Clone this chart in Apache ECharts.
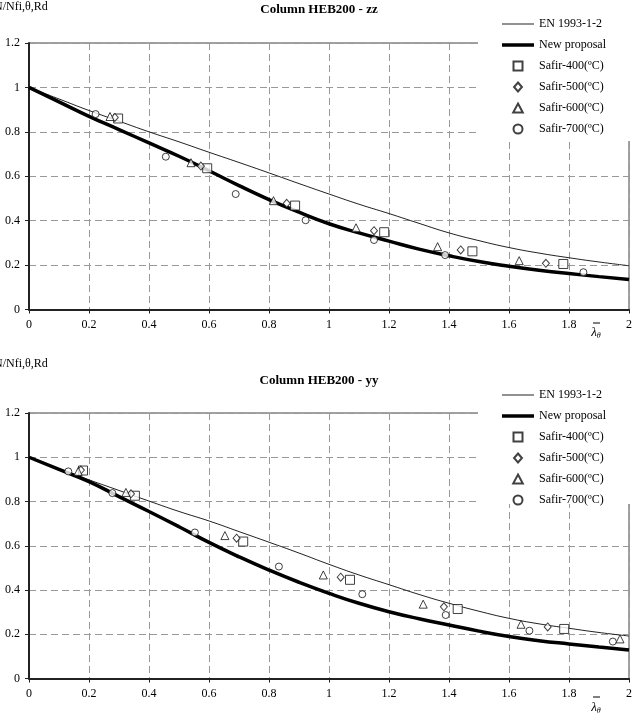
<!DOCTYPE html>
<html>
<head>
<meta charset="utf-8">
<script src="https://cdn.jsdelivr.net/npm/echarts@6/dist/echarts.min.js"></script>
<style>
  html, body { margin: 0; padding: 0; background: #fff; }
  #chart { width: 639px; height: 723px; }
</style>
</head>
<body>
<div id="chart"></div>
<script>
const curveLambda = [0, 0.1, 0.2, 0.3, 0.4, 0.5, 0.6, 0.7, 0.8, 0.9, 1.0, 1.1, 1.2, 1.3, 1.4, 1.5, 1.6, 1.7, 1.8, 1.9, 2.0]

// Column HEB200 - zz
const zzEn = [1, 0.948, 0.896, 0.848, 0.80, 0.755, 0.708, 0.662, 0.615, 0.567, 0.52, 0.474, 0.432, 0.388, 0.345, 0.31, 0.279, 0.254, 0.233, 0.214, 0.197]
const zzNew = [1, 0.935, 0.87, 0.81, 0.75, 0.69, 0.625, 0.558, 0.495, 0.438, 0.386, 0.345, 0.308, 0.272, 0.242, 0.216, 0.195, 0.177, 0.162, 0.148, 0.135]
const zzSafir400 = [[0.297, 0.86], [0.594, 0.636], [0.887, 0.468], [1.184, 0.348], [1.478, 0.262], [1.781, 0.205]]
const zzSafir500 = [[0.286, 0.865], [0.573, 0.646], [0.859, 0.478], [1.15, 0.355], [1.439, 0.268], [1.723, 0.208]]
const zzSafir600 = [[0.27, 0.869], [0.54, 0.661], [0.815, 0.49], [1.09, 0.368], [1.362, 0.283], [1.634, 0.22]]
const zzSafir700 = [[0.222, 0.88], [0.456, 0.688], [0.689, 0.52], [0.922, 0.402], [1.15, 0.313], [1.387, 0.245], [1.848, 0.168]]

// Column HEB200 - yy
const yyEn = [1, 0.948, 0.898, 0.85, 0.802, 0.755, 0.712, 0.664, 0.616, 0.567, 0.516, 0.468, 0.424, 0.38, 0.34, 0.304, 0.272, 0.247, 0.227, 0.208, 0.192]
const yyNew = [1, 0.945, 0.89, 0.822, 0.755, 0.686, 0.615, 0.55, 0.49, 0.435, 0.385, 0.34, 0.302, 0.27, 0.242, 0.214, 0.19, 0.171, 0.156, 0.142, 0.129]
const yySafir400 = [[0.18, 0.94], [0.353, 0.826], [0.714, 0.619], [1.07, 0.446], [1.429, 0.314], [1.784, 0.224]]
const yySafir500 = [[0.173, 0.942], [0.34, 0.835], [0.692, 0.634], [1.039, 0.458], [1.383, 0.324], [1.729, 0.233]]
const yySafir600 = [[0.164, 0.936], [0.323, 0.841], [0.653, 0.646], [0.981, 0.468], [1.314, 0.336], [1.64, 0.245], [1.97, 0.179]]
const yySafir700 = [[0.131, 0.936], [0.278, 0.838], [0.553, 0.66], [0.833, 0.506], [1.111, 0.381], [1.389, 0.287], [1.668, 0.216], [1.946, 0.167]]

const FONT = '"Liberation Serif", "Times New Roman", serif'
const names = ['EN 1993-1-2', 'New proposal', 'Safir-400(ºC)', 'Safir-500(ºC)', 'Safir-600(ºC)', 'Safir-700(ºC)']

// legend icons as paths so they keep their own proportions
const legendIcons = [
  'path://M0,0h32v1h-32z',
  'path://M0,0h32v3.5h-32z',
  'path://M0,0h9v9h-9z',
  'path://M3.5,0L7,4L3.5,8L0,4z',
  'path://M4,0L8,7.5L0,7.5z',
  'path://M3.5,0A3.5,3.5,0,1,1,3.5,7A3.5,3.5,0,1,1,3.5,0z'
]

function zip(xs, ys) {
  return xs.map((x, i) => [x, ys[i]])
}

function makeX(gridIndex) {
  return {
    type: 'value', gridIndex, min: 0, max: 2, interval: 0.2,
    axisLine: { show: true, onZero: false, lineStyle: { color: '#222', width: 2 } },
    axisTick: { show: true, length: 4, lineStyle: { color: '#222' } },
    axisLabel: { fontFamily: FONT, fontSize: 12, color: '#000', margin: 9 },
    splitLine: { show: true, lineStyle: { color: '#999', width: 1, type: [7, 4] } }
  }
}

function makeY(gridIndex) {
  return {
    type: 'value', gridIndex, min: 0, max: 1.2, interval: 0.2,
    axisLine: { show: true, onZero: false, lineStyle: { color: '#222', width: 2 } },
    axisTick: { show: true, length: 4, lineStyle: { color: '#222' } },
    axisLabel: { fontFamily: FONT, fontSize: 12, color: '#000', margin: 9 },
    splitLine: { show: true, lineStyle: { color: '#999', width: 1, type: [7, 4] } }
  }
}

function makeSeries(idx, en, neu, s400, s500, s600, s700) {
  const marker = (name, data, symbol, size) => ({
    name, type: 'scatter', xAxisIndex: idx, yAxisIndex: idx, data,
    symbol, symbolSize: size, z: 4,
    itemStyle: { color: '#fff', borderColor: '#111', borderWidth: 1 }
  })
  return [
    {
      name: names[0], type: 'line', xAxisIndex: idx, yAxisIndex: idx,
      data: zip(curveLambda, en), symbol: 'none', smooth: true, z: 3,
      lineStyle: { color: '#222', width: 1 }, itemStyle: { color: '#222' }
    },
    {
      name: names[1], type: 'line', xAxisIndex: idx, yAxisIndex: idx,
      data: zip(curveLambda, neu), symbol: 'none', smooth: true, z: 3,
      lineStyle: { color: '#000', width: 3.5 }, itemStyle: { color: '#000' }
    },
    marker(names[2], s400, 'rect', 9),
    marker(names[3], s500, 'diamond', [7, 8]),
    marker(names[4], s600, 'triangle', 8),
    marker(names[5], s700, 'circle', 7)
  ]
}

function makeLegend(top) {
  return {
    data: names.map((name, i) => ({ name, icon: legendIcons[i] })),
    orient: 'vertical', left: 497, top, z: 6, padding: 5,
    itemWidth: 32, itemHeight: 9, itemGap: 7, selectedMode: false,
    textStyle: { fontFamily: FONT, fontSize: 12, color: '#000', lineHeight: 14 }
  }
}

// λθ axis name: a bar over an italic lambda with θ subscript
function lambdaLabel(barY, textY) {
  return [
    { type: 'line', z: 6, shape: { x1: 593, y1: barY, x2: 600, y2: barY }, style: { stroke: '#000', lineWidth: 1 } },
    {
      type: 'text', z: 6, x: 596, y: textY,
      style: {
        text: '{l|λ}{s|θ}', align: 'center', verticalAlign: 'middle',
        rich: {
          l: { fontFamily: FONT, fontStyle: 'italic', fontSize: 13, fill: '#000' },
          s: { fontFamily: FONT, fontStyle: 'italic', fontSize: 8, fill: '#000', padding: [6, 0, 0, 0] }
        }
      }
    }
  ]
}

const chart = echarts.init(document.getElementById('chart'))

chart.setOption({
  backgroundColor: '#fff',
  animation: false,
  grid: [
    { left: 29, top: 43, width: 600, height: 266.5, show: true, borderColor: '#444', borderWidth: 1 },
    { left: 29, top: 413, width: 600, height: 265.5, show: true, borderColor: '#444', borderWidth: 1 }
  ],
  xAxis: [makeX(0), makeX(1)],
  yAxis: [makeY(0), makeY(1)],
  legend: [makeLegend(12), makeLegend(383)],
  graphic: [
    // white legend boxes laid over the plot corner
    { type: 'rect', z: 5, shape: { x: 478, y: 0, width: 161, height: 141 }, style: { fill: '#fff' } },
    { type: 'rect', z: 5, shape: { x: 478, y: 380, width: 161, height: 124 }, style: { fill: '#fff' } },
    { type: 'text', z: 6, x: 319, y: 10, style: { text: 'Column HEB200 - zz', align: 'center', verticalAlign: 'middle', fontFamily: FONT, fontSize: 13, fontWeight: 'bold', fill: '#000' } },
    { type: 'text', z: 6, x: 319, y: 381, style: { text: 'Column HEB200 - yy', align: 'center', verticalAlign: 'middle', fontFamily: FONT, fontSize: 13, fontWeight: 'bold', fill: '#000' } },
    { type: 'text', z: 6, x: -6, y: 7, style: { text: 'N/Nfi,θ,Rd', verticalAlign: 'middle', fontFamily: FONT, fontSize: 12, fill: '#000' } },
    { type: 'text', z: 6, x: -6, y: 364, style: { text: 'N/Nfi,θ,Rd', verticalAlign: 'middle', fontFamily: FONT, fontSize: 12, fill: '#000' } },
    ...lambdaLabel(323, 333),
    ...lambdaLabel(697, 708)
  ],
  series: [
    ...makeSeries(0, zzEn, zzNew, zzSafir400, zzSafir500, zzSafir600, zzSafir700),
    ...makeSeries(1, yyEn, yyNew, yySafir400, yySafir500, yySafir600, yySafir700)
  ]
})
</script>
</body>
</html>
